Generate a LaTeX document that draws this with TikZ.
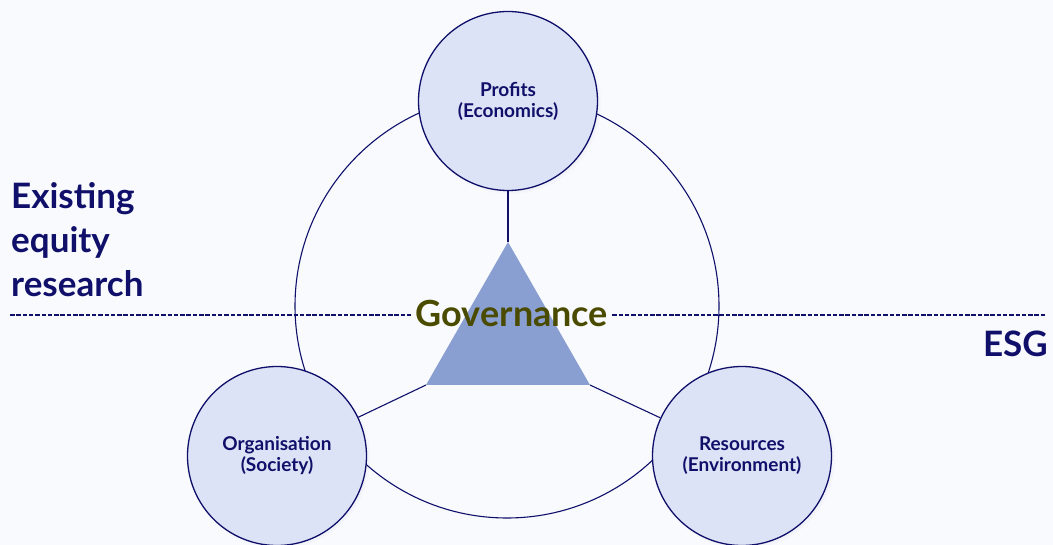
\documentclass[tikz,border=0pt]{standalone}
\usepackage{fontspec}
\setmainfont{Lato}
\usepackage{tikz}
\usetikzlibrary{positioning,shadows,calc}
\definecolor{navy}{HTML}{10106A}
\definecolor{pagebg}{HTML}{F8FAFE}
\definecolor{petalbg}{HTML}{DCE3F6}
\definecolor{hubbg}{HTML}{8A9FD1}
\definecolor{olive}{HTML}{4B4B00}

\begin{document}
\begin{tikzpicture}[x=1pt,y=-1pt,
  petal/.style={circle,draw=navy,line width=1.3pt,fill=petalbg,minimum size=179pt,
                inner sep=0pt,align=center,text=navy,
                font=\fontsize{19}{21}\selectfont\bfseries,
                circular drop shadow={shadow xshift=2pt,shadow yshift=-2pt,
                                      shadow scale=1.02,opacity=0.18,fill=navy!60}},
  ring/.style={circle,draw=navy,line width=1.1pt,minimum size=424pt,inner sep=0pt},
  spoke/.style={draw=navy,line width=1.1pt},
  split/.style={draw=navy,line width=1.2pt,dash pattern=on 4.5pt off 1.8pt},
  side/.style={text=navy,font=\fontsize{35}{44}\selectfont\bfseries,inner sep=0pt}]

  \fill[pagebg] (0,0) rectangle (1053,545);
  \useasboundingbox (0,0) rectangle (1053,545);

  % outer ring and the three pillars
  \node[ring] (ring) at (507,306) {};

  % governance triangle
  \coordinate (apex) at (508,242);
  \coordinate (lcorner) at (426,385);
  \coordinate (rcorner) at (590,385);
  \fill[hubbg] (apex) -- (lcorner) -- (rcorner) -- cycle;

  \node[petal] (econ) at (508,101) {Profits\\(Economics)};
  \node[petal] (soc) at (277,456) {Organisation\\(Society)};
  \node[petal] (env) at (742,456) {Resources\\(Environment)};

  \draw[spoke] (apex) -- (econ);
  \draw[spoke] (lcorner) -- (soc);
  \draw[spoke] (rcorner) -- (env);

  \node[text=olive,font=\fontsize{36}{40}\selectfont\bfseries,inner sep=4pt]
    (gov) at (512,313) {Governance};

  % split line between the two fields
  \coordinate (lend) at (10,315);
  \coordinate (rend) at (1046,315);
  \draw[split] (lend) -- (gov.west |- lend);
  \draw[split] (gov.east |- rend) -- (rend);

  \node[side,align=left,anchor=base west] (equity) at (11,297)
    {Existing\\equity\\research};
  \node[side,anchor=base east] (esg) at (1048,357) {ESG};
\end{tikzpicture}
\end{document}
